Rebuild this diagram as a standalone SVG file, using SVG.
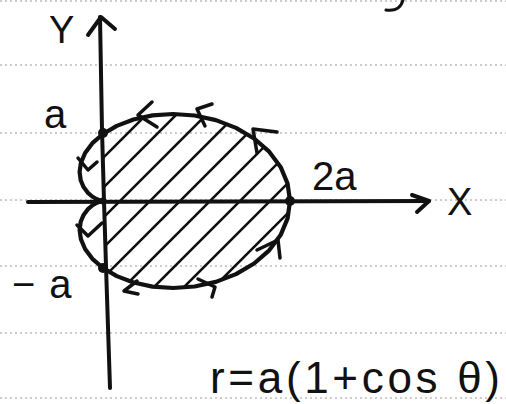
<svg xmlns="http://www.w3.org/2000/svg" width="506" height="404" viewBox="0 0 506 404">
  <style>
    .rule { stroke: #9a9a9a; stroke-width: 1; stroke-dasharray: 2 3; fill: none; }
    .ink { stroke: #111; fill: none; stroke-linecap: round; stroke-linejoin: round; }
    .axis { stroke-width: 4; }
    .curve { stroke-width: 4.2; }
    .hatch { stroke: #111; stroke-width: 2.6; stroke-linecap: round; }
    .chev { stroke-width: 3.5; }
    .lbl { font-family: "Liberation Sans", "DejaVu Sans", sans-serif; fill: #111; }
  </style>
  <defs>
    <clipPath id="rightpart">
      <path d="M104,134 L116.8,125.9 L133.5,119.5 L152.5,115.4 L173.1,114 L194.6,115.5 L215.9,120.1 L236,127.9 L254.1,138.5 L269.2,151.7 L280.6,166.9 L287.6,183.6 L290,201 L287.6,218.4 L280.6,235.1 L269.2,250.3 L254.1,263.5 L236,274.1 L215.9,281.9 L194.6,286.5 L173.1,288 L152.5,286.6 L133.5,282.5 L116.8,276.1 L104,268 Z"/>
    </clipPath>
  </defs>
  <rect width="506" height="404" fill="#fff"/>

  <g id="ruled-lines">
    <line class="rule" x1="0" y1="1" x2="506" y2="1"/>
    <line class="rule" x1="0" y1="65" x2="506" y2="65"/>
    <line class="rule" x1="0" y1="133" x2="506" y2="133"/>
    <line class="rule" x1="0" y1="200" x2="506" y2="200"/>
    <line class="rule" x1="0" y1="266" x2="506" y2="266"/>
    <line class="rule" x1="0" y1="333" x2="506" y2="333"/>
    <line class="rule" x1="0" y1="398" x2="506" y2="398"/>
  </g>

  <g id="hatching" clip-path="url(#rightpart)">
    <line class="hatch" x1="-59" y1="320" x2="161" y2="100"/>
    <line class="hatch" x1="-29" y1="320" x2="191" y2="100"/>
    <line class="hatch" x1="1" y1="320" x2="221" y2="100"/>
    <line class="hatch" x1="31" y1="320" x2="251" y2="100"/>
    <line class="hatch" x1="61" y1="320" x2="281" y2="100"/>
    <line class="hatch" x1="91" y1="320" x2="311" y2="100"/>
    <line class="hatch" x1="121" y1="320" x2="341" y2="100"/>
    <line class="hatch" x1="151" y1="320" x2="371" y2="100"/>
    <line class="hatch" x1="181" y1="320" x2="401" y2="100"/>
  </g>

  <g id="axes">
    <path class="ink axis" d="M100,17 L102,130 L104,201 L106,266 L110,388"/>
    <path class="ink axis" d="M88,35 L101,17 L115,29"/>
    <path class="ink axis" d="M28,202 L429,201"/>
    <path class="ink axis" d="M412,195 L429,201 L417,212"/>
  </g>

  <g id="cardioid">
    <path class="ink curve" d="M290,201 L287.6,183.6 L280.6,166.9 L269.2,151.7 L254.1,138.5 L236,127.9 L215.9,120.1 L194.6,115.5 L173.1,114 L152.5,115.4 L133.5,119.5 L116.8,125.9 L103,134 L92.4,143.2 L85.1,153 L80.9,162.8 L79.6,172 L80.7,180.2 L83.6,187.1 L87.7,192.6 L92.2,196.5 L96.4,199 L99.9,200.4 L103,201 L99.9,201.6 L96.4,203 L92.2,205.5 L87.7,209.4 L83.6,214.9 L80.7,221.8 L79.6,230 L80.9,239.2 L85.1,249 L92.4,258.8 L103,268 L116.8,276.1 L133.5,282.5 L152.5,286.6 L173.1,288 L194.6,286.5 L215.9,281.9 L236,274.1 L254.1,263.5 L269.2,250.3 L280.6,235.1 L287.6,218.4 Z"/>
  </g>

  <g id="direction-arrows">
    <path class="ink chev" d="M152,102 L138,115 L157,127"/>
    <path class="ink chev" d="M212,104 L197,109 L205,126"/>
    <path class="ink chev" d="M277,132 L253,129 L257,153"/>
    <path class="ink chev" d="M78,158 L88,170 L97,162"/>
    <path class="ink chev" d="M77,225 L88,236 L102,223"/>
    <path class="ink chev" d="M137,281 L124,291 L138,294"/>
    <path class="ink chev" d="M198,279 L215,287 L212,297"/>
    <path class="ink chev" d="M257,250 L278,240 L280,258"/>
  </g>

  <g id="points">
    <circle cx="103" cy="133" r="5" fill="#111"/>
    <circle cx="103" cy="201" r="3.5" fill="#111"/>
    <circle cx="290" cy="201" r="5" fill="#111"/>
    <circle cx="103" cy="268" r="5" fill="#111"/>
  </g>

  <g id="labels">
    <text class="lbl" x="49" y="43" font-size="38">Y</text>
    <text class="lbl" x="44" y="128" font-size="40">a</text>
    <text class="lbl" x="312" y="190" font-size="40">2a</text>
    <text class="lbl" x="447" y="215" font-size="38">X</text>
    <text class="lbl" x="12" y="298" font-size="40">−<tspan dx="14">a</tspan></text>
    <text class="lbl" x="210" y="393" font-size="44" textLength="290" lengthAdjust="spacing">r=a(1+cos θ)</text>
  </g>

  <path class="ink" stroke-width="3" d="M403,0 Q400,12 386,10"/>
</svg>
